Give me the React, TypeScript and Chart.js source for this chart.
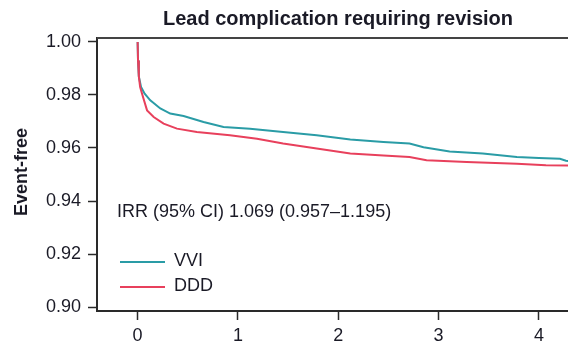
import React, { useEffect, useRef } from "react";
import { Chart, registerables } from "chart.js";

Chart.register(...registerables);

const chartTitle = "Lead complication requiring revision";
const yAxisTitle = "Event-free";
const annotationText = "IRR (95% CI) 1.069 (0.957\u20131.195)";
const seriesLabels = ["VVI", "DDD"];
const seriesColors = ["#2a9ca6", "#e8405c"];
const yTickValues = [0.9, 0.92, 0.94, 0.96, 0.98, 1.0];
const xTickValues = [0, 1, 2, 3, 4];

const vviX = [0, 0.004, 0.012, 0.034, 0.07, 0.126, 0.226, 0.325, 0.458, 0.657, 0.856, 1.12, 1.45, 1.785, 2.12, 2.45, 2.71, 2.85, 3.11, 3.44, 3.78, 4.0, 4.21, 4.27, 4.3];
const vviY = [1.0, 0.993, 0.987, 0.983, 0.9805, 0.978, 0.9749, 0.973, 0.9721, 0.9698, 0.9679, 0.9673, 0.966, 0.9648, 0.9632, 0.9623, 0.9617, 0.9603, 0.9587, 0.9579, 0.9566, 0.9562, 0.9559, 0.9552, 0.9551];

const dddX = [0, 0.004, 0.012, 0.025, 0.044, 0.094, 0.16, 0.259, 0.392, 0.59, 0.92, 1.19, 1.45, 1.785, 2.12, 2.45, 2.71, 2.88, 3.28, 3.78, 4.07, 4.3];
const dddY = [1.0, 0.993, 0.987, 0.983, 0.9805, 0.9742, 0.9717, 0.9692, 0.9673, 0.966, 0.9648, 0.9635, 0.9617, 0.9598, 0.9579, 0.9572, 0.9566, 0.9554, 0.9547, 0.9541, 0.9535, 0.9534];

const FONT = "'Liberation Sans', Arial, Helvetica, sans-serif";
const TEXT = "#1a1a26";
const AXIS = "#2a2a2a";

const overlayPlugin = {
  id: "overlay",
  afterDraw(chart: any) {
    const ctx = chart.ctx;
    const area = chart.chartArea;
    ctx.save();
    // top border
    ctx.strokeStyle = "#444";
    ctx.lineWidth = 2;
    ctx.beginPath();
    ctx.moveTo(area.left, area.top);
    ctx.lineTo(area.right, area.top);
    ctx.stroke();

    // title
    ctx.fillStyle = TEXT;
    ctx.font = `bold 20px ${FONT}`;
    ctx.textAlign = "center";
    ctx.textBaseline = "alphabetic";
    ctx.fillText(chartTitle, 338, 25);

    // y-axis title
    ctx.save();
    ctx.translate(22, 172);
    ctx.rotate(-Math.PI / 2);
    ctx.font = `bold 18px ${FONT}`;
    ctx.textAlign = "center";
    ctx.textBaseline = "middle";
    ctx.fillText(yAxisTitle, 0, 0);
    ctx.restore();

    // annotation
    ctx.font = `18px ${FONT}`;
    ctx.textAlign = "left";
    ctx.textBaseline = "middle";
    ctx.fillText(annotationText, 117, 212);

    // legend
    const legendY = [262, 287];
    seriesLabels.forEach((lab, i) => {
      ctx.strokeStyle = seriesColors[i];
      ctx.lineWidth = 2;
      ctx.beginPath();
      ctx.moveTo(120, legendY[i]);
      ctx.lineTo(165, legendY[i]);
      ctx.stroke();
      ctx.fillStyle = TEXT;
      ctx.font = `18px ${FONT}`;
      ctx.fillText(lab, 174, legendY[i] - 1);
    });
    ctx.restore();
  },
};

export default function App() {
  const ref = useRef<HTMLCanvasElement | null>(null);
  useEffect(() => {
    if (!ref.current) return;
    const chart = new Chart(ref.current, {
      type: "line",
      data: {
        datasets: [
          {
            label: seriesLabels[0],
            data: vviX.map((x, i) => ({ x, y: vviY[i] })),
            borderColor: seriesColors[0],
            borderWidth: 2,
            pointRadius: 0,
            tension: 0,
            fill: false,
            order: 1,
          },
          {
            label: seriesLabels[1],
            data: dddX.map((x, i) => ({ x, y: dddY[i] })),
            borderColor: seriesColors[1],
            borderWidth: 2,
            pointRadius: 0,
            tension: 0,
            fill: false,
            order: 0,
          },
        ],
      },
      options: {
        animation: false,
        responsive: false,
        layout: { padding: { top: 38, left: 0, right: 0, bottom: 0 } },
        plugins: { legend: { display: false }, tooltip: { enabled: false }, title: { display: false } },
        scales: {
          x: {
            type: "linear",
            min: -0.405,
            max: 4.29,
            afterBuildTicks: (s: any) => {
              s.ticks = xTickValues.map((v) => ({ value: v }));
            },
            afterFit: (s: any) => {
              s.height = 31;
            },
            grid: { drawOnChartArea: false, drawTicks: true, tickLength: 9, tickWidth: 1.5, tickColor: AXIS },
            border: { display: true, color: AXIS, width: 2 },
            ticks: {
              font: { family: FONT, size: 18 },
              color: TEXT,
              padding: 5,
              maxRotation: 0,
              callback: (v: any) => String(v),
            },
          },
          y: {
            type: "linear",
            min: 0.8985,
            max: 1.0015,
            afterBuildTicks: (s: any) => {
              s.ticks = yTickValues.map((v) => ({ value: v }));
            },
            afterFit: (s: any) => {
              s.width = 97;
            },
            grid: { drawOnChartArea: false, drawTicks: true, tickLength: 9, tickWidth: 1.5, tickColor: AXIS },
            border: { display: true, color: AXIS, width: 2 },
            ticks: {
              font: { family: FONT, size: 18 },
              color: TEXT,
              padding: 7,
              callback: (v: any) => Number(v).toFixed(2),
            },
          },
        },
      },
      plugins: [overlayPlugin],
    });
    return () => chart.destroy();
  }, []);
  return (
    <div style={{ position: "absolute", left: 0, top: 0, width: 568, height: 342, background: "#fff" }}>
      <canvas ref={ref} width={568} height={342} style={{ display: "block" }} />
    </div>
  );
}
